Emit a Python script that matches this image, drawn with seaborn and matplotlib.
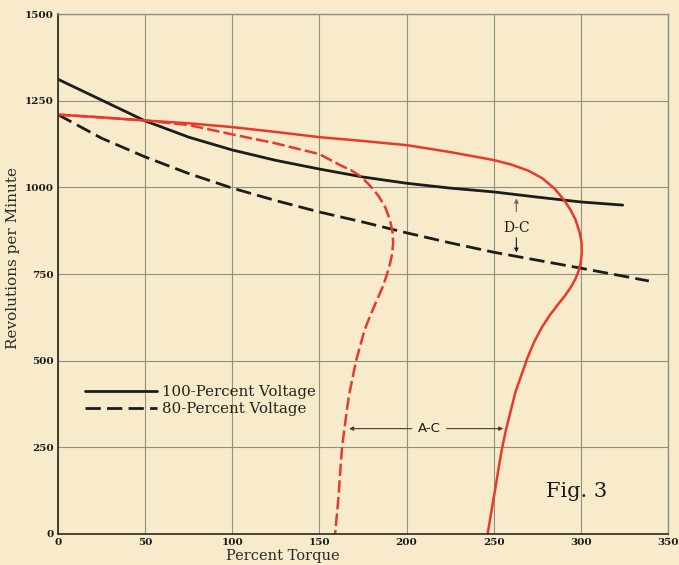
import matplotlib
matplotlib.use("Agg")
import matplotlib.pyplot as plt
import seaborn as sns
from matplotlib.lines import Line2D

# D-C motor curves (percent torque vs rpm)
dc100_torque = [0, 25, 50, 75, 100, 125, 150, 175, 200, 225, 250, 275, 300, 324]
dc100_rpm = [1312, 1252, 1192, 1145, 1108, 1078, 1053, 1030, 1012, 998, 987, 972, 958, 949]

dc80_torque = [0, 25, 50, 75, 100, 125, 150, 175, 200, 225, 250, 275, 300, 339]
dc80_rpm = [1210, 1142, 1088, 1040, 998, 962, 929, 900, 869, 840, 813, 790, 767, 730]

# A-C motor curves
ac100_torque = [0, 25, 50, 75, 100, 125, 150, 175, 200, 225, 250, 260, 270, 278, 285,
                290, 294, 297, 299.3, 300.4, 300.5, 300, 298.8, 296.8, 294, 290.5, 286.5,
                282, 277.5, 273.3, 269.5, 266, 262.5, 260, 257, 254.5, 252.5, 250.7, 248.5,
                246.5]
ac100_rpm = [1210, 1202, 1193, 1185, 1174, 1160, 1145, 1134, 1122, 1102, 1079, 1066, 1048,
             1026, 996, 966, 936, 906, 870, 840, 810, 785, 760, 735, 710, 685, 660, 630,
             595, 555, 510, 460, 410, 360, 300, 240, 180, 125, 60, 0]

ac80_torque = [0, 25, 50, 75, 100, 125, 150, 162, 168, 174, 179, 184, 188, 190.5, 192,
               192.3, 191.8, 190.5, 189, 186.5, 183, 179, 176, 173.5, 171, 169, 167,
               165.3, 164, 163, 161.8, 160.8, 159]
ac80_rpm = [1210, 1202, 1193, 1180, 1153, 1127, 1096, 1064, 1050, 1031, 1005, 975, 940,
            905, 870, 840, 810, 780, 753, 715, 675, 628, 590, 545, 499, 450, 401, 340,
            290, 251, 170, 98, 0]

x_ticks = [0, 50, 100, 150, 200, 250, 300, 350]
y_ticks = [0, 250, 500, 750, 1000, 1250, 1500]

BG = "#f7ebcb"
GRID = "#8a9182"
BLACK = "#1c1c1a"
RED = "#e8392b"

sns.set_style("white", {"axes.facecolor": BG, "figure.facecolor": BG})
plt.rcParams["font.family"] = ["DejaVu Serif"]
plt.rcParams["lines.scale_dashes"] = False

fig = plt.figure(figsize=(6.79, 5.65), dpi=100)
ax = fig.add_axes([0.0854, 0.0549, 0.8984, 0.9201])

sns.lineplot(x=dc100_torque, y=dc100_rpm, sort=False, estimator=None, ax=ax,
             color=BLACK, linewidth=2.0)
sns.lineplot(x=dc80_torque, y=dc80_rpm, sort=False, estimator=None, ax=ax,
             color=BLACK, linewidth=2.0, linestyle=(0, (11, 4.5)))
sns.lineplot(x=ac100_torque, y=ac100_rpm, sort=False, estimator=None, ax=ax,
             color=RED, linewidth=1.8)
sns.lineplot(x=ac80_torque, y=ac80_rpm, sort=False, estimator=None, ax=ax,
             color=RED, linewidth=1.8, linestyle=(0, (9, 3)))

ax.set_xlim(0, 350)
ax.set_ylim(0, 1500)
ax.set_xticks(x_ticks)
ax.set_yticks(y_ticks)
ax.grid(True, color=GRID, linewidth=0.8)
ax.set_axisbelow(True)
for side in ["top", "right"]:
    ax.spines[side].set_color(GRID)
    ax.spines[side].set_linewidth(1.0)
for side in ["left", "bottom"]:
    ax.spines[side].set_color("#2a2a24")
    ax.spines[side].set_linewidth(1.2)

ax.tick_params(axis="both", length=2, width=0.8, pad=1, labelsize=7.5, colors="#1a1a1a")
for lbl in ax.get_xticklabels() + ax.get_yticklabels():
    lbl.set_fontweight("bold")

ax.set_xlabel("Percent Torque", fontsize=10.5, color="#2a2a24")
ax.set_ylabel("Revolutions per Minute", fontsize=11, color="#2a2a24")
ax.xaxis.set_label_coords(0.369, -0.029)
ax.yaxis.set_label_coords(-0.062, 0.53)

# legend (black line styles = voltage)
handles = [Line2D([], [], color=BLACK, linewidth=2.0),
           Line2D([], [], color=BLACK, linewidth=2.0, linestyle=(0, (11, 4.5)))]
ax.legend(handles, ["100-Percent Voltage", "80-Percent Voltage"], loc="upper left",
          bbox_to_anchor=(0.045, 0.286), frameon=False, fontsize=10.8, handlelength=4.8,
          handletextpad=0.3, labelspacing=0.2, borderpad=0, borderaxespad=0,
          labelcolor="#1f2418")

# D-C annotation
arrow = dict(arrowstyle="-|>", lw=0.8, mutation_scale=6, shrinkA=0, shrinkB=0)
ax.text(263, 883, "D-C", ha="center", va="center", fontsize=10, color="#1a1a1a")
ax.annotate("", xy=(263, 968), xytext=(263, 930), arrowprops=dict(arrow, color="#666"))
ax.annotate("", xy=(263, 812), xytext=(263, 855), arrowprops=dict(arrow, color="#1a1a1a"))

# A-C annotation
ax.text(213, 304, "A-C", ha="center", va="center", fontsize=9.5, color="#1a1a1a",
        family="DejaVu Sans")
ax.annotate("", xy=(167, 304), xytext=(203, 304), arrowprops=dict(arrow, color="#4a3a28"))
ax.annotate("", xy=(255.5, 304), xytext=(223, 304), arrowprops=dict(arrow, color="#4a3a28"))

ax.text(280, 122, "Fig. 3", ha="left", va="center", fontsize=15, color="#1a1a1a")

fig.savefig("out.png", dpi=100, facecolor=BG)
